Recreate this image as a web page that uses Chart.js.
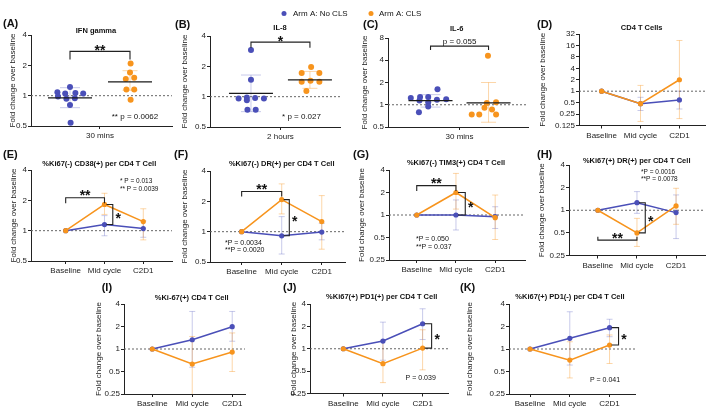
<!DOCTYPE html>
<html>
<head>
<meta charset="utf-8">
<title>Fold change over baseline</title>
<script src="https://cdn.jsdelivr.net/npm/chart.js@4.4.1/dist/chart.umd.min.js"></script>
<style>
  html, body { margin: 0; padding: 0; background: #ffffff; }
  #wrap { position: relative; width: 709px; height: 409px; overflow: hidden; background: #ffffff; }
  #wrap canvas { position: absolute; left: 0; top: 0; }
</style>
</head>
<body>
<div id="wrap"></div>
<script>
// ---------------- data ----------------
const seriesNames = ['Arm A: No CLS', 'Arm A: CLS'];
const timepoints = ['Baseline', 'Mid cycle', 'C2D1'];
const ticks4 = [0.5, 1, 2, 4];
const ticks8 = [0.5, 1, 2, 4, 8];
const ticks32 = [0.125, 0.25, 0.5, 1, 2, 4, 8, 16, 32];
const ticks025 = [0.25, 0.5, 1, 2, 4];

// (A) IFN gamma, 30 mins
const ifnLabel = ['30 mins'];
const ifnNoCLS = [1.22, 1.08, 1.05, 1.06, 1.05, 0.98, 0.93, 0.94, 0.81, 0.54];
const ifnNoCLSJitter = [0, -0.21, -0.08, 0.09, 0.22, -0.2, -0.06, 0.08, 0, 0.01];
const ifnCLS = [2.08, 1.70, 1.46, 1.51, 1.15, 1.15, 0.91];
const ifnCLSJitter = [0.01, 0, -0.07, 0.07, -0.06, 0.07, 0.01];
const ifnMean = [0.95, 1.37];
const ifnSdLow = [0.76, 1.13];
const ifnSdHigh = [1.20, 1.77];

// (B) IL-8, 2 hours
const il8Label = ['2 hours'];
const il8NoCLS = [2.9, 1.47, 0.96, 0.98, 0.97, 0.96, 0.92, 0.74, 0.74];
const il8NoCLSJitter = [0, 0, -0.21, -0.07, 0.07, 0.22, -0.07, -0.06, 0.08];
const il8CLS = [1.97, 1.72, 1.72, 1.41, 1.44, 1.41, 1.14];
const il8CLSJitter = [0.02, -0.14, 0.16, -0.14, 0.01, 0.16, -0.06];
const il8Mean = [1.08, 1.47];
const il8SdLow = [0.71, 1.21];
const il8SdHigh = [1.64, 1.78];

// (C) IL-6, 30 mins
const il6Label = ['30 mins'];
const il6NoCLS = [1.62, 1.27, 1.27, 1.23, 1.14, 1.17, 1.19, 1.08, 0.95, 0.79];
const il6NoCLSJitter = [0.12, -0.18, -0.04, -0.34, -0.19, 0.11, 0.27, -0.04, -0.04, -0.2];
const il6CLS = [4.6, 1.06, 1.08, 0.91, 0.86, 0.74, 0.74, 0.74];
const il6CLSJitter = [-0.01, -0.03, 0.13, -0.07, 0.06, -0.29, -0.16, 0.13];
const il6Mean = [1.14, 1.06];
const il6SdLow = [0.93, 0.58];
const il6SdHigh = [1.37, 2.0];

// (D) CD4 T Cells
const cd4NoCLS = [1, 0.47, 0.59];
const cd4NoCLSLow = [1, 0.31, 0.34];
const cd4NoCLSHigh = [1, 0.69, 1.0];
const cd4CLS = [1, 0.47, 2.0];
const cd4CLSLow = [1, 0.16, 0.19];
const cd4CLSHigh = [1, 1.42, 21.6];

// (E) %Ki67(-) CD38(+)
const cd38NoCLS = [1, 1.15, 1.05];
const cd38NoCLSLow = [1, 0.89, 0.86];
const cd38NoCLSHigh = [1, 1.41, 1.25];
const cd38CLS = [1, 1.82, 1.23];
const cd38CLSLow = [1, 1.45, 0.81];
const cd38CLSHigh = [1, 2.35, 1.65];

// (F) %Ki67(-) DR(+)
const drNegNoCLS = [1, 0.91, 0.99];
const drNegNoCLSLow = [1, 0.60, 0.83];
const drNegNoCLSHigh = [1, 1.41, 1.21];
const drNegCLS = [1, 2.08, 1.26];
const drNegCLSLow = [1, 1.50, 0.67];
const drNegCLSHigh = [1, 2.98, 2.28];

// (G) %Ki67(-) TIM3(+)
const tim3NoCLS = [1, 1.0, 0.95];
const tim3NoCLSLow = [1, 0.63, 0.66];
const tim3NoCLSHigh = [1, 1.59, 1.29];
const tim3CLS = [1, 2.0, 0.92];
const tim3CLSLow = [1, 1.2, 0.47];
const tim3CLSHigh = [1, 3.6, 1.85];

// (H) %Ki67(+) DR(+)
const drPosNoCLS = [1, 1.26, 0.93];
const drPosNoCLSLow = [1, 0.91, 0.42];
const drPosNoCLSHigh = [1, 1.77, 1.6];
const drPosCLS = [1, 0.5, 1.14];
const drPosCLSLow = [1, 0.33, 0.65];
const drPosCLSHigh = [1, 0.78, 1.96];

// (I) %Ki-67(+)
const ki67NoCLS = [1, 1.33, 1.99];
const ki67NoCLSLow = [1, 0.57, 1.27];
const ki67NoCLSHigh = [1, 3.18, 3.18];
const ki67CLS = [1, 0.63, 0.91];
const ki67CLSLow = [1, 0.22, 0.5];
const ki67CLSHigh = [1, 1.47, 1.64];

// (J) %Ki67(+) PD1(+)
const pd1PosNoCLS = [1, 1.27, 2.17];
const pd1PosNoCLSLow = [1, 0.70, 1.33];
const pd1PosNoCLSHigh = [1, 2.28, 3.45];
const pd1PosCLS = [1, 0.63, 1.02];
const pd1PosCLSLow = [1, 0.35, 0.52];
const pd1PosCLSHigh = [1, 1.30, 1.80];

// (K) %Ki67(+) PD1(-)
const pd1NegNoCLS = [1, 1.39, 1.93];
const pd1NegNoCLSLow = [1, 0.61, 1.46];
const pd1NegNoCLSHigh = [1, 3.15, 2.5];
const pd1NegCLS = [1, 0.71, 1.13];
const pd1NegCLSLow = [1, 0.41, 0.64];
const pd1NegCLSHigh = [1, 1.25, 1.54];

// ---------------- styles ----------------
const FONT = "'Liberation Sans', Arial, Helvetica, sans-serif";
Chart.defaults.font.family = FONT;
Chart.defaults.color = '#222';
const COLORS = ['#4a4fb8', '#f7941d'];
const LIGHT = ['rgba(74,79,184,0.30)', 'rgba(247,148,29,0.38)'];
const CAP_HALF = [10, 7.5];
const MEAN_HALF = 22;
const XH = 15;
const W = 709, H = 409;
const yTitle = 'Fold change over baseline';

function lineSeries(v, lo, hi) { return { vals: v, low: lo, high: hi }; }

const panels = [
  { kind: 'scatter', area: [31, 35, 172, 126], yw: 23.5, x: [-0.65, 1.7], xTicks: [0.5], xLabels: ifnLabel,
    y: [0.5, 4], yTicks: ticks4,
    groups: [
      { vals: ifnNoCLS, jitter: ifnNoCLSJitter, mean: ifnMean[0], lo: ifnSdLow[0], hi: ifnSdHigh[0] },
      { vals: ifnCLS, jitter: ifnCLSJitter, mean: ifnMean[1], lo: ifnSdLow[1], hi: ifnSdHigh[1] }],
    label: ['(A)', 3, 24], title: ['IFN gamma', 96, 31],
    hBrackets: [{ x1: 0, x2: 1, y: 2.75, leg: 8, star: '**', g: 5 }],
    notes: [{ t: '** p = 0.0062', x: 135, y: 117, size: 8, align: 'center' }] },
  { kind: 'scatter', area: [210, 36, 340, 127], yw: 29.8, x: [-0.695, 1.51], xTicks: [0.5], xLabels: il8Label,
    y: [0.5, 4], yTicks: ticks4,
    groups: [
      { vals: il8NoCLS, jitter: il8NoCLSJitter, mean: il8Mean[0], lo: il8SdLow[0], hi: il8SdHigh[0] },
      { vals: il8CLS, jitter: il8CLSJitter, mean: il8Mean[1], lo: il8SdLow[1], hi: il8SdHigh[1] }],
    label: ['(B)', 175, 25], title: ['IL-8', 280, 27.5], legend: true,
    hBrackets: [{ x1: 0, x2: 1, y: 3.48, leg: 5.6, star: '*', g: 4.7 }],
    notes: [{ t: '* p = 0.027', x: 301.5, y: 116.7, size: 8, align: 'center' }] },
  { kind: 'scatter', area: [388, 38, 528, 127], yw: 28, x: [-0.733, 1.68], xTicks: [0.5], xLabels: il6Label,
    y: [0.5, 8], yTicks: ticks8,
    groups: [
      { vals: il6NoCLS, jitter: il6NoCLSJitter, mean: il6Mean[0], lo: il6SdLow[0], hi: il6SdHigh[0] },
      { vals: il6CLS, jitter: il6CLSJitter, mean: il6Mean[1], lo: il6SdLow[1], hi: il6SdHigh[1] }],
    label: ['(C)', 363, 25], title: ['IL-6', 456.7, 29],
    hBrackets: [{ x1: 0, x2: 1, y: 6.22, leg: 4, text: 'p = 0.055', g: 4.5 }] },
  { kind: 'line', area: [579, 34, 707, 125.5], yw: 40.8, x: [-0.582, 2.658], xTicks: [0, 1, 2], xLabels: timepoints,
    y: [0.125, 32], yTicks: ticks32,
    series: [lineSeries(cd4NoCLS, cd4NoCLSLow, cd4NoCLSHigh), lineSeries(cd4CLS, cd4CLSLow, cd4CLSHigh)],
    label: ['(D)', 537, 25], title: ['CD4 T Cells', 641.7, 28.3] },
  { kind: 'line', area: [31, 170, 172, 261], yw: 22.2, x: [-0.894, 2.74], xTicks: [0, 1, 2], xLabels: timepoints,
    y: [0.5, 4], yTicks: ticks4,
    series: [lineSeries(cd38NoCLS, cd38NoCLSLow, cd38NoCLSHigh), lineSeries(cd38CLS, cd38CLSLow, cd38CLSHigh)],
    label: ['(E)', 3, 155], title: ['%Ki67(-) CD38(+) per CD4 T Cell', 99.3, 164],
    hBrackets: [{ x1: 0, x2: 1, y: 2.12, leg: 5.4, star: '**', g: 5.6 }],
    vBrackets: [{ at: 1, dx: 8.3, y1: cd38CLS[1], y2: cd38NoCLS[1] }],
    notes: [{ t: '* P = 0.013', x: 120, y: 181.7, size: 6.5, align: 'left' },
            { t: '** P = 0.0039', x: 120, y: 189.3, size: 6.5, align: 'left' }] },
  { kind: 'line', area: [210, 171, 345, 262], yw: 29.8, x: [-0.79, 2.58], xTicks: [0, 1, 2], xLabels: timepoints,
    y: [0.5, 4], yTicks: ticks4,
    series: [lineSeries(drNegNoCLS, drNegNoCLSLow, drNegNoCLSHigh), lineSeries(drNegCLS, drNegCLSLow, drNegCLSHigh)],
    label: ['(F)', 174, 155], title: ['%Ki67(-) DR(+) per CD4 T Cell', 281.7, 164],
    hBrackets: [{ x1: 0, x2: 1, y: 2.5, leg: 5, star: '**', g: 5.7 }],
    vBrackets: [{ at: 1, dx: 7.6, y1: drNegCLS[1], y2: drNegNoCLS[1] }],
    notes: [{ t: '*P = 0.0034', x: 225, y: 242.7, size: 7, align: 'left' },
            { t: '**P = 0.0020', x: 225, y: 250, size: 7, align: 'left' }] },
  { kind: 'line', area: [389, 170, 525, 260], yw: 32, x: [-0.707, 2.76], xTicks: [0, 1, 2], xLabels: timepoints,
    y: [0.25, 4], yTicks: ticks025,
    series: [lineSeries(tim3NoCLS, tim3NoCLSLow, tim3NoCLSHigh), lineSeries(tim3CLS, tim3CLSLow, tim3CLSHigh)],
    label: ['(G)', 353, 155], title: ['%Ki67(-) TIM3(+) CD4 T Cell', 456, 163.3],
    hBrackets: [{ x1: 0, x2: 1, y: 2.47, leg: 5.3, star: '**', g: 5.7 }],
    vBrackets: [{ at: 1, dx: 9.3, y1: tim3CLS[1], y2: tim3NoCLS[1] }],
    notes: [{ t: '*P = 0.050', x: 416, y: 239.3, size: 7, align: 'left' },
            { t: '**P = 0.037', x: 416, y: 246.7, size: 7, align: 'left' }] },
  { kind: 'line', area: [569, 165, 707, 255.5], yw: 32, x: [-0.738, 2.74], xTicks: [0, 1, 2], xLabels: timepoints,
    y: [0.25, 4], yTicks: ticks025,
    series: [lineSeries(drPosNoCLS, drPosNoCLSLow, drPosNoCLSHigh), lineSeries(drPosCLS, drPosCLSLow, drPosCLSHigh)],
    label: ['(H)', 537, 155], title: ['%Ki67(+) DR(+) per CD4 T Cell', 636.7, 160.7],
    hBrackets: [{ x1: 0, x2: 1, y: 0.40, leg: -3.3, star: '**', g: 5 }],
    vBrackets: [{ at: 1, dx: 8.3, y1: drPosNoCLS[1], y2: drPosCLS[1] }],
    notes: [{ t: '*P = 0.0016', x: 641, y: 172.7, size: 6.5, align: 'left' },
            { t: '**P = 0.0078', x: 641, y: 179.3, size: 6.5, align: 'left' }] },
  { kind: 'line', area: [124, 304, 245, 394], yw: 30.5, x: [-0.7075, 2.32], xTicks: [0, 1, 2], xLabels: timepoints,
    y: [0.25, 4], yTicks: ticks025,
    series: [lineSeries(ki67NoCLS, ki67NoCLSLow, ki67NoCLSHigh), lineSeries(ki67CLS, ki67CLSLow, ki67CLSHigh)],
    label: ['(I)', 101.7, 288.3], title: ['%Ki-67(+) CD4 T Cell', 191.7, 298.3] },
  { kind: 'line', area: [310, 304, 448, 393.5], yw: 21, x: [-0.84, 2.64], xTicks: [0, 1, 2], xLabels: timepoints,
    y: [0.25, 4], yTicks: ticks025,
    series: [lineSeries(pd1PosNoCLS, pd1PosNoCLSLow, pd1PosNoCLSHigh), lineSeries(pd1PosCLS, pd1PosCLSLow, pd1PosCLSHigh)],
    label: ['(J)', 283, 288.3], title: ['%Ki67(+) PD1(+) per CD4 T Cell', 381.7, 296.7],
    vBrackets: [{ at: 2, dx: 9, y1: pd1PosNoCLS[2], y2: pd1PosCLS[2] }],
    notes: [{ t: 'P = 0.039', x: 420.7, y: 377.7, size: 7, align: 'center' }] },
  { kind: 'line', area: [509, 304, 635, 394], yw: 44, x: [-0.529, 2.64], xTicks: [0, 1, 2], xLabels: timepoints,
    y: [0.25, 4], yTicks: ticks025,
    series: [lineSeries(pd1NegNoCLS, pd1NegNoCLSLow, pd1NegNoCLSHigh), lineSeries(pd1NegCLS, pd1NegCLSLow, pd1NegCLSHigh)],
    label: ['(K)', 460, 288], title: ['%Ki67(+) PD1(-) per CD4 T Cell', 570, 296.7],
    vBrackets: [{ at: 2, dx: 9, y1: pd1NegNoCLS[2], y2: pd1NegCLS[2] }],
    notes: [{ t: 'P = 0.041', x: 605, y: 380, size: 7, align: 'center' }] }
];

// ---------------- drawing helpers ----------------
function drawStar(ctx, text, cx, cy, size) {
  ctx.font = 'bold ' + size + 'px ' + FONT;
  ctx.textAlign = 'center';
  ctx.textBaseline = 'alphabetic';
  ctx.fillText(text, cx, cy + 0.58 * size);
}

function makeDecor(p, idx) {
  return {
    id: 'decor' + idx,
    beforeDatasetsDraw(chart) {
      const { ctx, chartArea: a } = chart;
      const xs = chart.scales.x, ys = chart.scales.y;
      ctx.save();
      ctx.strokeStyle = '#666';
      ctx.lineWidth = 1;
      ctx.setLineDash([2, 2]);
      const r = ys.getPixelForValue(1);
      ctx.beginPath(); ctx.moveTo(a.left, r); ctx.lineTo(a.right, r); ctx.stroke();
      ctx.setLineDash([]);
      ctx.beginPath();
      ctx.rect(a.left, a.top - 2, a.right - a.left, a.bottom - a.top + 2);
      ctx.clip();
      let bars = [];
      if (p.kind === 'line') {
        p.series.forEach((s, k) => s.vals.forEach((v, i) => {
          bars.push({ x: i, lo: s.low[i], hi: s.high[i], c: LIGHT[k], cap: 3 });
        }));
      } else {
        p.groups.forEach((g, k) => bars.push({ x: k, lo: g.lo, hi: g.hi, c: LIGHT[k], cap: CAP_HALF[k] }));
      }
      bars.forEach(b => {
        if (b.lo === b.hi) return;
        const px = xs.getPixelForValue(b.x);
        const pl = ys.getPixelForValue(b.lo), ph = ys.getPixelForValue(b.hi);
        ctx.strokeStyle = b.c;
        ctx.lineWidth = 1;
        ctx.beginPath();
        ctx.moveTo(px, pl); ctx.lineTo(px, ph);
        ctx.moveTo(px - b.cap, pl); ctx.lineTo(px + b.cap, pl);
        ctx.moveTo(px - b.cap, ph); ctx.lineTo(px + b.cap, ph);
        ctx.stroke();
      });
      ctx.restore();
    },
    afterDatasetsDraw(chart) {
      const { ctx } = chart;
      const xs = chart.scales.x, ys = chart.scales.y;
      ctx.save();
      if (p.kind === 'scatter') {
        p.groups.forEach((g, k) => {
          const cx = xs.getPixelForValue(k), py = ys.getPixelForValue(g.mean);
          ctx.strokeStyle = '#1a1a1a'; ctx.lineWidth = 1.3;
          ctx.beginPath(); ctx.moveTo(cx - MEAN_HALF, py); ctx.lineTo(cx + MEAN_HALF, py); ctx.stroke();
        });
      }
      ctx.strokeStyle = '#222'; ctx.fillStyle = '#111'; ctx.lineWidth = 1.1;
      (p.hBrackets || []).forEach(b => {
        const x1 = xs.getPixelForValue(b.x1), x2 = xs.getPixelForValue(b.x2), yb = ys.getPixelForValue(b.y);
        ctx.beginPath();
        ctx.moveTo(x1, yb + b.leg); ctx.lineTo(x1, yb); ctx.lineTo(x2, yb); ctx.lineTo(x2, yb + b.leg);
        ctx.stroke();
        const cx = (x1 + x2) / 2, cy = yb - b.g;
        if (b.star) drawStar(ctx, b.star, cx, cy, 14);
        if (b.text) {
          ctx.font = '8px ' + FONT; ctx.textAlign = 'center'; ctx.textBaseline = 'middle';
          ctx.fillText(b.text, cx, cy);
        }
      });
      (p.vBrackets || []).forEach(b => {
        const xp = xs.getPixelForValue(b.at), vx = xp + b.dx;
        const y1 = ys.getPixelForValue(b.y1), y2 = ys.getPixelForValue(b.y2);
        ctx.beginPath();
        ctx.moveTo(xp + 2, y1); ctx.lineTo(vx, y1); ctx.lineTo(vx, y2); ctx.lineTo(xp + 2, y2);
        ctx.stroke();
        drawStar(ctx, '*', vx + 5.5, (y1 + y2) / 2, 14);
      });
      ctx.restore();
    },
    afterDraw(chart) {
      const ctx = chart.ctx;
      ctx.save();
      ctx.fillStyle = '#111';
      ctx.textBaseline = 'middle';
      ctx.textAlign = 'left';
      ctx.font = 'bold 11px ' + FONT;
      ctx.fillText(p.label[0], p.label[1], p.label[2]);
      ctx.textAlign = 'center';
      ctx.font = 'bold 7.5px ' + FONT;
      ctx.fillText(p.title[0], p.title[1], p.title[2]);
      (p.notes || []).forEach(n => {
        ctx.font = n.size + 'px ' + FONT;
        ctx.textAlign = n.align;
        ctx.fillText(n.t, n.x, n.y);
      });
      if (p.legend) {
        const items = [{ dot: 284, tx: 293 }, { dot: 371, tx: 379 }];
        ctx.font = '8px ' + FONT;
        ctx.textAlign = 'left';
        chart.data.datasets.forEach((ds, k) => {
          ctx.fillStyle = COLORS[k];
          ctx.beginPath(); ctx.arc(items[k].dot, 13.5, 2.5, 0, Math.PI * 2); ctx.fill();
          ctx.fillStyle = '#111';
          ctx.fillText(ds.label, items[k].tx, 13.8);
        });
      }
      ctx.restore();
    }
  };
}

function buildDatasets(p) {
  if (p.kind === 'scatter') {
    return p.groups.map((g, k) => ({
      label: seriesNames[k],
      data: g.vals.map((v, i) => ({ x: k + g.jitter[i], y: v })),
      showLine: false,
      pointRadius: 3,
      pointBorderWidth: 0,
      backgroundColor: COLORS[k],
      pointBackgroundColor: COLORS[k],
      borderColor: COLORS[k]
    }));
  }
  return p.series.map((s, k) => ({
    label: seriesNames[k],
    data: s.vals.map((v, i) => ({ x: i, y: v })),
    showLine: true,
    borderColor: COLORS[k],
    backgroundColor: COLORS[k],
    borderWidth: 1.5,
    pointRadius: 2.6,
    pointBorderWidth: 0,
    pointBackgroundColor: COLORS[k],
    order: k === 0 ? 1 : 0
  }));
}

const wrap = document.getElementById('wrap');
panels.forEach((p, idx) => {
  const canvas = document.createElement('canvas');
  canvas.width = W; canvas.height = H;
  canvas.style.width = W + 'px'; canvas.style.height = H + 'px';
  wrap.appendChild(canvas);
  new Chart(canvas, {
    type: 'scatter',
    data: { datasets: buildDatasets(p) },
    options: {
      responsive: false,
      maintainAspectRatio: false,
      animation: false,
      devicePixelRatio: 1,
      events: [],
      layout: { padding: { left: p.area[0] - p.yw, top: p.area[1], right: W - p.area[2], bottom: H - p.area[3] - XH } },
      plugins: { legend: { display: false }, tooltip: { enabled: false }, title: { display: false } },
      scales: {
        x: {
          type: 'linear', min: p.x[0], max: p.x[1], bounds: 'data',
          afterBuildTicks: s => { s.ticks = p.xTicks.map(v => ({ value: v })); },
          afterFit: s => { s.height = XH; },
          ticks: { callback: (v, i) => p.xLabels[i], font: { size: 8 }, color: '#222', padding: 2, maxRotation: 0, autoSkip: false },
          grid: { drawOnChartArea: false, drawTicks: true, tickLength: 3, color: '#222', lineWidth: 1 },
          border: { color: '#222', width: 1 }
        },
        y: {
          type: 'logarithmic', min: p.y[0], max: p.y[1],
          afterBuildTicks: s => { s.ticks = p.yTicks.map(v => ({ value: v })); },
          afterFit: s => { s.width = p.yw; },
          ticks: { callback: v => String(v), font: { size: 8 }, color: '#222', padding: 1, autoSkip: false },
          grid: { drawOnChartArea: false, drawTicks: true, tickLength: 3, color: '#222', lineWidth: 1 },
          border: { color: '#222', width: 1 },
          title: { display: true, text: yTitle, font: { size: 8 }, color: '#222', padding: 0 }
        }
      }
    },
    plugins: [makeDecor(p, idx)]
  });
});
</script>
</body>
</html>
